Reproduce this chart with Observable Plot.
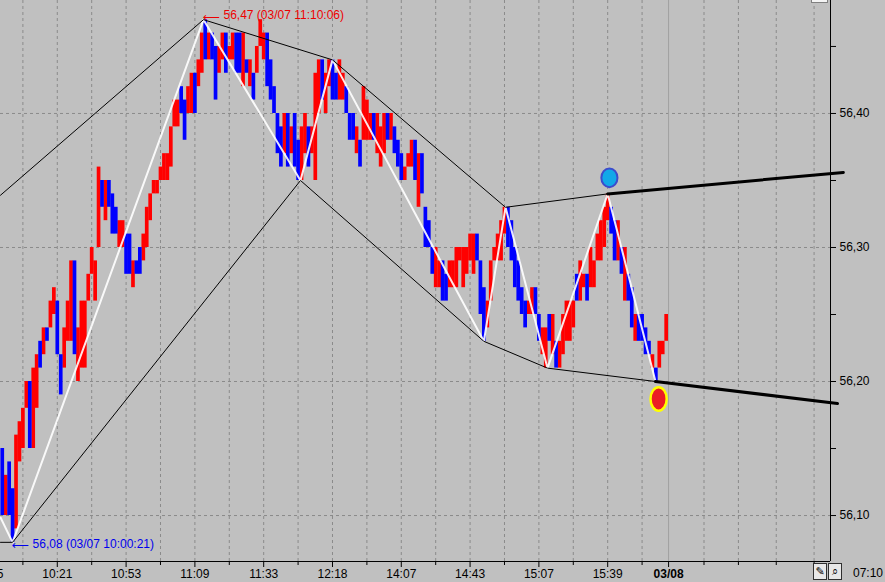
<!DOCTYPE html>
<html><head><meta charset="utf-8">
<script src="https://cdn.jsdelivr.net/npm/d3@7"></script>
<script src="https://cdn.jsdelivr.net/npm/@observablehq/plot@0.6"></script>
<style>
html,body{margin:0;padding:0;background:#c0c0c0;overflow:hidden;}
#wrap{position:relative;width:885px;height:582px;}
.btn{position:absolute;top:563px;width:14px;height:17px;background:#e8e8e8;border:1px solid #303030;box-sizing:border-box;font:11px 'DejaVu Sans';line-height:15px;text-align:center;color:#000;}
#clock{position:absolute;left:853px;top:566px;font:12px 'Liberation Sans';color:#000;}
#topbox{position:absolute;left:811px;top:0;width:17px;height:3px;background:#f4f4f4;border:1px solid #808080;border-top:none;box-sizing:border-box;}
</style></head><body><div id="wrap"></div>
<script>
// ---- bar data (bar index, high, low, direction 1=up/red 0=down/blue)
const barStart = 4;
const highs = [
56.15,56.13,56.14,56.12,56.16,56.17,56.18,56.20,56.20,56.21,
56.22,56.23,56.24,56.24,56.26,56.27,56.26,56.22,56.24,56.26,
56.29,56.29,56.24,56.26,56.26,56.28,56.30,56.29,56.36,56.35,
56.35,56.35,56.34,56.33,56.32,56.32,56.31,56.31,56.29,56.29,
56.30,56.31,56.33,56.34,56.35,56.35,56.36,56.37,56.37,56.39,
56.41,56.41,56.42,56.41,56.42,56.43,56.43,56.44,56.46,56.47,
56.46,56.46,56.45,56.45,56.46,56.46,56.45,56.46,56.46,56.46,
56.46,56.44,56.44,56.43,56.45,56.47,56.46,56.46,56.44,56.42,
56.40,56.39,56.40,56.40,56.39,56.40,56.38,56.39,56.40,56.39,
56.39,56.43,56.44,56.44,56.43,56.44,56.44,56.43,56.44,56.43,
56.42,56.40,56.40,56.39,56.38,56.42,56.41,56.40,56.40,56.40,
56.39,56.40,56.40,56.40,56.39,56.38,56.37,56.36,56.37,56.38,
56.38,56.37,56.37,56.33,56.32,56.30,56.30,56.29,56.29,56.28,
56.29,56.29,56.30,56.30,56.30,56.30,56.31,56.31,56.31,56.29,
56.27,56.26,56.29,56.30,56.31,56.32,56.33,56.33,56.32,56.30,
56.29,56.27,56.26,56.26,56.27,56.27,56.25,56.24,56.24,56.25,
56.25,56.23,56.23,56.25,56.26,56.26,56.26,56.28,56.29,56.28,
56.28,56.30,56.29,56.31,56.32,56.33,56.34,56.33,56.32,56.32,
56.30,56.30,56.28,56.27,56.25,56.25,56.25,56.24,56.23,56.22,
56.21,56.23,56.23,56.25];
const lows = [
56.10,56.10,56.10,56.08,56.09,56.14,56.15,56.18,56.15,56.15,
56.18,56.21,56.22,56.23,56.24,56.25,56.22,56.19,56.21,56.23,
56.23,56.22,56.20,56.21,56.21,56.26,56.28,56.26,56.30,56.33,
56.32,56.33,56.31,56.31,56.30,56.30,56.28,56.28,56.27,56.28,
56.28,56.29,56.30,56.32,56.34,56.34,56.35,56.35,56.35,56.36,
56.39,56.39,56.40,56.38,56.40,56.40,56.40,56.42,56.43,56.44,
56.44,56.44,56.41,56.43,56.44,56.43,56.44,56.44,56.43,56.43,
56.42,56.43,56.42,56.41,56.43,56.45,56.44,56.42,56.41,56.40,
56.37,56.36,56.37,56.36,56.37,56.36,56.35,56.35,56.37,56.36,
56.37,56.35,56.40,56.41,56.40,56.42,56.41,56.41,56.41,56.41,
56.40,56.38,56.38,56.37,56.36,56.38,56.38,56.38,56.38,56.37,
56.36,56.37,56.38,56.38,56.37,56.36,56.35,56.35,56.36,56.36,
56.35,56.33,56.34,56.30,56.30,56.28,56.27,56.27,56.26,56.26,
56.27,56.27,56.27,56.29,56.27,56.28,56.29,56.28,56.29,56.25,
56.23,56.24,56.26,56.29,56.29,56.29,56.31,56.30,56.29,56.27,
56.26,56.25,56.24,56.25,56.25,56.25,56.23,56.22,56.21,56.23,
56.22,56.21,56.21,56.22,56.23,56.23,56.24,56.26,56.26,56.27,
56.26,56.27,56.27,56.29,56.29,56.30,56.32,56.31,56.29,56.29,
56.28,56.26,56.26,56.24,56.23,56.23,56.23,56.22,56.22,56.21,
56.20,56.21,56.22,56.23];
const isUp = [
0,1,0,0,1,1,1,1,0,1,
1,0,1,0,1,1,0,0,1,1,
1,0,1,1,1,1,1,1,1,0,
1,0,0,0,1,1,0,0,1,0,
0,1,1,1,1,1,1,1,1,1,
1,1,0,0,1,1,0,1,1,0,
1,0,0,1,1,0,1,1,0,0,
1,0,1,0,1,1,1,0,0,0,
0,0,1,0,1,0,0,1,1,0,
1,1,1,0,1,1,0,0,1,1,
0,0,0,1,0,1,1,1,0,1,
1,1,0,1,0,0,0,1,1,1,
0,1,0,0,0,0,1,1,0,0,
1,1,1,1,1,1,1,1,0,0,
0,1,1,1,1,1,1,0,0,0,
0,0,0,1,1,0,0,1,1,0,
1,0,1,1,1,1,1,0,1,1,
0,1,1,1,1,1,1,0,0,1,
0,1,0,0,1,0,0,0,0,1,
0,1,1,1];

// ---- axes
const xDomain = [3.49, 244.77];
const yDomain = [56.0657, 56.4843];
const xTickIdx = [0, 20, 40, 60, 80, 100, 120, 140, 160, 180];
const xTickLabels = ["09:55","10:21","10:53","11:09","11:33","12:18","14:07","14:43","15:07","15:39"];
const dayIdx = [197.7];
const dayLabels = ["03/08"];
const xGridIdx = [10,20,30,40,50,60,70,80,90,100,110,120,130,140,150,160,170,180,190,208,218,229,240];
const xMinorIdx = [10,30,50,70,90,110,130,150,170,190,208,218,229,240];
const yTicks = [56.10, 56.20, 56.30, 56.40];
const yMinor = [56.15, 56.25, 56.35, 56.45];

// ---- overlays (pivots / trendlines)
const zigIdx   = [3.49, 7, 62.5, 90.7, 100, 144, 150.3, 162.5, 180, 193.9];
const zigPrice = [56.0985, 56.08, 56.47, 56.35, 56.44, 56.23, 56.33, 56.21, 56.34, 56.20];
const upperIdx   = [3.49, 62.5, 100, 150.3, 180];
const upperPrice = [56.339, 56.47, 56.44, 56.33, 56.34];
const lowerIdx   = [3.49, 7, 90.7, 144, 162.5, 193.9];
const lowerPrice = [56.08, 56.08, 56.35, 56.23, 56.21, 56.20];
const resistIdx = [180, 248.5];
const resistPrice = [56.34, 56.356];
const supportIdx = [193.9, 246.8];
const supportPrice = [56.20, 56.1836];
const signalIdx = [180.5, 194.8];
const signalPrice = [56.352, 56.187];
const extremeIdx = [62.5, 7];
const extremePrice = [56.47, 56.08];
const extremeTime = ["03/07 11:10:06", "03/07 10:00:21"];
const extremeColor = ["#ee0000", "#0000ee"];

const bars = highs.map((h, k) => ({i: barStart + k, high: h, low: lows[k], up: isUp[k] === 1}));
const pts = (xs, ys) => xs.map((x, k) => ({x, y: ys[k]}));
const fmt = v => v.toFixed(2).replace(".", ",");
const extremes = extremeIdx.map((x, k) => ({x, y: extremePrice[k], label: fmt(extremePrice[k]) + " (" + extremeTime[k] + ")", color: extremeColor[k]}));

function ellipse(ax, ay) {
  return {draw(ctx, size) {
    const r = Math.sqrt(size / Math.PI), rx = r * ax, ry = r * ay, k = 0.5523;
    ctx.moveTo(rx, 0);
    ctx.bezierCurveTo(rx, ry * k, rx * k, ry, 0, ry);
    ctx.bezierCurveTo(-rx * k, ry, -rx, ry * k, -rx, 0);
    ctx.bezierCurveTo(-rx, -ry * k, -rx * k, -ry, 0, -ry);
    ctx.bezierCurveTo(rx * k, -ry, rx, -ry * k, rx, 0);
    ctx.closePath();
  }};
}

const FONT = "'Liberation Sans', 'DejaVu Sans', sans-serif";
const grid = {stroke: "#8a8a8a", strokeDasharray: "3,3", strokeWidth: 1, strokeOpacity: 1};

const chart = Plot.plot({
  width: 885, height: 582,
  marginLeft: 0, marginRight: 55, marginTop: 0, marginBottom: 21,
  style: {background: "#c0c0c0", fontFamily: FONT, fontSize: "12px", color: "#000", overflow: "hidden"},
  x: {domain: xDomain, axis: null},
  y: {domain: yDomain, axis: null},
  marks: [
    Plot.ruleY(yTicks, grid),
    Plot.ruleX(xGridIdx, grid),
    Plot.ruleX(dayIdx, {stroke: "#a0a0a0", strokeWidth: 1}),
    Plot.ruleX(bars.filter(d => d.up), {x: "i", y1: "low", y2: "high", stroke: "#ff0000", strokeWidth: 3.7}),
    Plot.ruleX(bars.filter(d => !d.up), {x: "i", y1: "low", y2: "high", stroke: "#0000ff", strokeWidth: 3.7}),
    Plot.line(pts(zigIdx, zigPrice), {x: "x", y: "y", stroke: "#ffffff", strokeWidth: 2, strokeOpacity: 0.9}),
    Plot.line(pts(upperIdx, upperPrice), {x: "x", y: "y", stroke: "#000", strokeWidth: 1}),
    Plot.line(pts(lowerIdx, lowerPrice), {x: "x", y: "y", stroke: "#000", strokeWidth: 1}),
    Plot.line(pts(resistIdx, resistPrice), {x: "x", y: "y", stroke: "#000", strokeWidth: 3}),
    Plot.line(pts(supportIdx, supportPrice), {x: "x", y: "y", stroke: "#000", strokeWidth: 3}),
    Plot.dot([{x: signalIdx[0], y: signalPrice[0]}], {x: "x", y: "y", r: 8.5, symbol: ellipse(0.95, 1.1), fill: "#12a8e8", stroke: "#3c4ccc", strokeWidth: 2}),
    Plot.dot([{x: signalIdx[1], y: signalPrice[1]}], {x: "x", y: "y", r: 9, symbol: ellipse(0.9, 1.3), fill: "#ec1c24", stroke: "#ffff00", strokeWidth: 2.5}),
    // arrows pointing at the extremes
    Plot.text([extremes[0]], {x: "x", y: "y", text: () => "\u27F5", textAnchor: "start", dx: -1, dy: -3, fill: "color", fontFamily: "DejaVu Sans", fontSize: 12}),
    Plot.text([extremes[1]], {x: "x", y: "y", text: () => "\u27F5", textAnchor: "start", dx: -1, dy: 3, fill: "color", fontFamily: "DejaVu Sans", fontSize: 12}),
    Plot.text([extremes[0]], {x: "x", y: "y", text: "label", textAnchor: "start", dx: 20, dy: -5, fill: "color", fontSize: 12}),
    Plot.text([extremes[1]], {x: "x", y: "y", text: "label", textAnchor: "start", dx: 20, dy: 2, fill: "color", fontSize: 12}),
    Plot.ruleY([yDomain[0]], {stroke: "#000", strokeWidth: 1}),
    Plot.ruleX([xDomain[1]], {stroke: "#000", strokeWidth: 1}),
    Plot.axisY({anchor: "right", ticks: yTicks, tickFormat: fmt, tickSize: 5, tickPadding: 4, label: null, stroke: "#000", fill: "#000", fontSize: 12}),
    Plot.axisY({anchor: "right", ticks: yMinor, tickFormat: () => "", tickSize: 5, label: null, stroke: "#000"}),
    Plot.axisX({ticks: xTickIdx, tickFormat: d => xTickLabels[xTickIdx.indexOf(d)], tickSize: 6, tickPadding: 2, label: null, stroke: "#000", fill: "#000", fontSize: 12}),
    Plot.axisX({ticks: xMinorIdx, tickFormat: () => "", tickSize: 4, label: null, stroke: "#000"}),
    Plot.axisX({ticks: dayIdx, tickFormat: d => dayLabels[dayIdx.indexOf(d)], tickSize: 6, tickPadding: 2, label: null, stroke: "#000", fill: "#000", fontSize: 12, fontWeight: "bold"})
  ]
});
const wrap = document.getElementById("wrap");
wrap.appendChild(chart);
wrap.insertAdjacentHTML("beforeend",
  '<div id="topbox"></div><div class="btn" style="left:813px">\u270E</div><div class="btn" style="left:828px">\u2315</div><div id="clock">07:10</div>');
</script></body></html>
